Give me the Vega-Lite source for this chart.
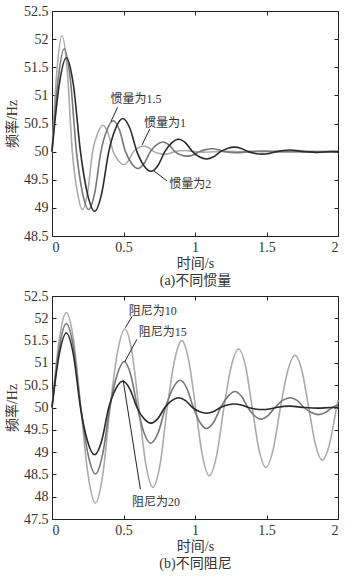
{
  "$schema": "https://vega.github.io/schema/vega-lite/v6.json",
  "padding": {"left": 5, "top": 3, "right": 5, "bottom": 5},
  "config": {
    "font": "Liberation Serif, Noto Sans CJK SC",
    "view": {"stroke": "#222", "strokeWidth": 1},
    "axis": {
      "grid": false,
      "domainColor": "#222",
      "tickColor": "#222",
      "tickSize": -4,
      "format": "~g",
      "labelFont": "Liberation Serif",
      "labelFontSize": 14,
      "labelColor": "#333",
      "labelPadding": 8,
      "titleFont": "Liberation Serif, Noto Sans CJK SC",
      "titleFontSize": 14,
      "titleFontWeight": "normal",
      "titleColor": "#333"
    }
  },
  "datasets": {
    "a": [
      {"t":0,"f":50,"s":"惯量为1"},{"t":0.035,"f":51.46,"s":"惯量为1"},{"t":0.07,"f":52.06,"s":"惯量为1"},{"t":0.106,"f":51.46,"s":"惯量为1"},{"t":0.142,"f":50,"s":"惯量为1"},{"t":0.178,"f":49.27,"s":"惯量为1"},{"t":0.213,"f":48.97,"s":"惯量为1"},{"t":0.249,"f":49.27,"s":"惯量为1"},{"t":0.284,"f":50,"s":"惯量为1"},{"t":0.32,"f":50.33,"s":"惯量为1"},{"t":0.355,"f":50.47,"s":"惯量为1"},{"t":0.392,"f":50.33,"s":"惯量为1"},{"t":0.428,"f":50,"s":"惯量为1"},{"t":0.464,"f":49.84,"s":"惯量为1"},{"t":0.5,"f":49.77,"s":"惯量为1"},{"t":0.535,"f":49.84,"s":"惯量为1"},{"t":0.57,"f":50,"s":"惯量为1"},{"t":0.605,"f":50.07,"s":"惯量为1"},{"t":0.64,"f":50.1,"s":"惯量为1"},{"t":0.676,"f":50.07,"s":"惯量为1"},{"t":0.712,"f":50,"s":"惯量为1"},{"t":0.75,"f":49.965,"s":"惯量为1"},{"t":0.785,"f":49.95,"s":"惯量为1"},{"t":0.82,"f":49.965,"s":"惯量为1"},{"t":0.857,"f":50,"s":"惯量为1"},{"t":0.93,"f":50.02,"s":"惯量为1"},{"t":1.0,"f":50,"s":"惯量为1"},{"t":1.07,"f":49.99,"s":"惯量为1"},{"t":1.2,"f":50.005,"s":"惯量为1"},{"t":1.4,"f":50,"s":"惯量为1"},{"t":2.0,"f":50,"s":"惯量为1"},
      {"t":0,"f":50,"s":"惯量为1.5"},{"t":0.043,"f":51.29,"s":"惯量为1.5"},{"t":0.086,"f":51.83,"s":"惯量为1.5"},{"t":0.128,"f":51.29,"s":"惯量为1.5"},{"t":0.171,"f":50,"s":"惯量为1.5"},{"t":0.213,"f":49.27,"s":"惯量为1.5"},{"t":0.256,"f":48.97,"s":"惯量为1.5"},{"t":0.299,"f":49.27,"s":"惯量为1.5"},{"t":0.342,"f":50,"s":"惯量为1.5"},{"t":0.385,"f":50.39,"s":"惯量为1.5"},{"t":0.428,"f":50.55,"s":"惯量为1.5"},{"t":0.471,"f":50.39,"s":"惯量为1.5"},{"t":0.514,"f":50,"s":"惯量为1.5"},{"t":0.557,"f":49.79,"s":"惯量为1.5"},{"t":0.6,"f":49.7,"s":"惯量为1.5"},{"t":0.644,"f":49.79,"s":"惯量为1.5"},{"t":0.688,"f":50,"s":"惯量为1.5"},{"t":0.731,"f":50.12,"s":"惯量为1.5"},{"t":0.775,"f":50.17,"s":"惯量为1.5"},{"t":0.818,"f":50.12,"s":"惯量为1.5"},{"t":0.86,"f":50,"s":"惯量为1.5"},{"t":0.903,"f":49.94,"s":"惯量为1.5"},{"t":0.945,"f":49.92,"s":"惯量为1.5"},{"t":0.988,"f":49.94,"s":"惯量为1.5"},{"t":1.03,"f":50,"s":"惯量为1.5"},{"t":1.075,"f":50.035,"s":"惯量为1.5"},{"t":1.12,"f":50.05,"s":"惯量为1.5"},{"t":1.163,"f":50.035,"s":"惯量为1.5"},{"t":1.205,"f":50,"s":"惯量为1.5"},{"t":1.29,"f":49.98,"s":"惯量为1.5"},{"t":1.375,"f":50,"s":"惯量为1.5"},{"t":1.46,"f":50.01,"s":"惯量为1.5"},{"t":1.6,"f":50,"s":"惯量为1.5"},{"t":2.0,"f":50,"s":"惯量为1.5"},
      {"t":0,"f":50,"s":"惯量为2"},{"t":0.05,"f":51.18,"s":"惯量为2"},{"t":0.1,"f":51.67,"s":"惯量为2"},{"t":0.15,"f":51.18,"s":"惯量为2"},{"t":0.199,"f":50,"s":"惯量为2"},{"t":0.248,"f":49.25,"s":"惯量为2"},{"t":0.298,"f":48.94,"s":"惯量为2"},{"t":0.347,"f":49.25,"s":"惯量为2"},{"t":0.397,"f":50,"s":"惯量为2"},{"t":0.446,"f":50.42,"s":"惯量为2"},{"t":0.495,"f":50.59,"s":"惯量为2"},{"t":0.544,"f":50.42,"s":"惯量为2"},{"t":0.594,"f":50,"s":"惯量为2"},{"t":0.643,"f":49.75,"s":"惯量为2"},{"t":0.692,"f":49.65,"s":"惯量为2"},{"t":0.74,"f":49.75,"s":"惯量为2"},{"t":0.789,"f":50,"s":"惯量为2"},{"t":0.837,"f":50.156,"s":"惯量为2"},{"t":0.885,"f":50.22,"s":"惯量为2"},{"t":0.934,"f":50.156,"s":"惯量为2"},{"t":0.983,"f":50,"s":"惯量为2"},{"t":1.03,"f":49.908,"s":"惯量为2"},{"t":1.08,"f":49.87,"s":"惯量为2"},{"t":1.13,"f":49.908,"s":"惯量为2"},{"t":1.178,"f":50,"s":"惯量为2"},{"t":1.226,"f":50.057,"s":"惯量为2"},{"t":1.275,"f":50.08,"s":"惯量为2"},{"t":1.324,"f":50.057,"s":"惯量为2"},{"t":1.373,"f":50,"s":"惯量为2"},{"t":1.42,"f":49.968,"s":"惯量为2"},{"t":1.47,"f":49.955,"s":"惯量为2"},{"t":1.52,"f":49.968,"s":"惯量为2"},{"t":1.568,"f":50,"s":"惯量为2"},{"t":1.665,"f":50.03,"s":"惯量为2"},{"t":1.763,"f":50,"s":"惯量为2"},{"t":1.86,"f":49.985,"s":"惯量为2"},{"t":1.95,"f":50,"s":"惯量为2"},{"t":2.0,"f":50,"s":"惯量为2"}
    ],
    "b": [
      {"t":0,"f":50,"s":"阻尼为10"},{"t":0.05,"f":51.51,"s":"阻尼为10"},{"t":0.1,"f":52.13,"s":"阻尼为10"},{"t":0.151,"f":51.51,"s":"阻尼为10"},{"t":0.201,"f":50,"s":"阻尼为10"},{"t":0.252,"f":48.49,"s":"阻尼为10"},{"t":0.303,"f":47.86,"s":"阻尼为10"},{"t":0.355,"f":48.49,"s":"阻尼为10"},{"t":0.406,"f":50,"s":"阻尼为10"},{"t":0.458,"f":51.24,"s":"阻尼为10"},{"t":0.51,"f":51.76,"s":"阻尼为10"},{"t":0.559,"f":51.24,"s":"阻尼为10"},{"t":0.607,"f":50,"s":"阻尼为10"},{"t":0.656,"f":48.73,"s":"阻尼为10"},{"t":0.705,"f":48.21,"s":"阻尼为10"},{"t":0.756,"f":48.73,"s":"阻尼为10"},{"t":0.806,"f":50,"s":"阻尼为10"},{"t":0.857,"f":51.06,"s":"阻尼为10"},{"t":0.908,"f":51.5,"s":"阻尼为10"},{"t":0.956,"f":51.06,"s":"阻尼为10"},{"t":1.004,"f":50,"s":"阻尼为10"},{"t":1.052,"f":48.92,"s":"阻尼为10"},{"t":1.1,"f":48.47,"s":"阻尼为10"},{"t":1.151,"f":48.92,"s":"阻尼为10"},{"t":1.2025,"f":50,"s":"阻尼为10"},{"t":1.254,"f":50.93,"s":"阻尼为10"},{"t":1.305,"f":51.31,"s":"阻尼为10"},{"t":1.353,"f":50.93,"s":"阻尼为10"},{"t":1.4,"f":50,"s":"阻尼为10"},{"t":1.448,"f":49.05,"s":"阻尼为10"},{"t":1.495,"f":48.66,"s":"阻尼为10"},{"t":1.546,"f":49.05,"s":"阻尼为10"},{"t":1.5975,"f":50,"s":"阻尼为10"},{"t":1.649,"f":50.83,"s":"阻尼为10"},{"t":1.7,"f":51.17,"s":"阻尼为10"},{"t":1.7475,"f":50.83,"s":"阻尼为10"},{"t":1.795,"f":50,"s":"阻尼为10"},{"t":1.8425,"f":49.17,"s":"阻尼为10"},{"t":1.89,"f":48.82,"s":"阻尼为10"},{"t":1.94,"f":49.17,"s":"阻尼为10"},{"t":1.99,"f":50,"s":"阻尼为10"},{"t":2.0,"f":50.17,"s":"阻尼为10"},
      {"t":0,"f":50,"s":"阻尼为15"},{"t":0.05,"f":51.33,"s":"阻尼为15"},{"t":0.1,"f":51.88,"s":"阻尼为15"},{"t":0.151,"f":51.33,"s":"阻尼为15"},{"t":0.2015,"f":50,"s":"阻尼为15"},{"t":0.252,"f":48.95,"s":"阻尼为15"},{"t":0.303,"f":48.51,"s":"阻尼为15"},{"t":0.354,"f":48.95,"s":"阻尼为15"},{"t":0.404,"f":50,"s":"阻尼为15"},{"t":0.455,"f":50.73,"s":"阻尼为15"},{"t":0.505,"f":51.03,"s":"阻尼为15"},{"t":0.551,"f":50.73,"s":"阻尼为15"},{"t":0.5975,"f":50,"s":"阻尼为15"},{"t":0.644,"f":49.43,"s":"阻尼为15"},{"t":0.69,"f":49.2,"s":"阻尼为15"},{"t":0.742,"f":49.43,"s":"阻尼为15"},{"t":0.7935,"f":50,"s":"阻尼为15"},{"t":0.845,"f":50.43,"s":"阻尼为15"},{"t":0.897,"f":50.61,"s":"阻尼为15"},{"t":0.943,"f":50.43,"s":"阻尼为15"},{"t":0.9885,"f":50,"s":"阻尼为15"},{"t":1.034,"f":49.67,"s":"阻尼为15"},{"t":1.08,"f":49.53,"s":"阻尼为15"},{"t":1.13,"f":49.67,"s":"阻尼为15"},{"t":1.18,"f":50,"s":"阻尼为15"},{"t":1.23,"f":50.25,"s":"阻尼为15"},{"t":1.28,"f":50.36,"s":"阻尼为15"},{"t":1.325,"f":50.25,"s":"阻尼为15"},{"t":1.37,"f":50,"s":"阻尼为15"},{"t":1.415,"f":49.82,"s":"阻尼为15"},{"t":1.46,"f":49.74,"s":"阻尼为15"},{"t":1.51,"f":49.82,"s":"阻尼为15"},{"t":1.56,"f":50,"s":"阻尼为15"},{"t":1.6125,"f":50.16,"s":"阻尼为15"},{"t":1.665,"f":50.22,"s":"阻尼为15"},{"t":1.714,"f":50.16,"s":"阻尼为15"},{"t":1.7625,"f":50,"s":"阻尼为15"},{"t":1.814,"f":49.89,"s":"阻尼为15"},{"t":1.865,"f":49.84,"s":"阻尼为15"},{"t":1.9125,"f":49.89,"s":"阻尼为15"},{"t":1.96,"f":50,"s":"阻尼为15"},{"t":2.0,"f":50.06,"s":"阻尼为15"},
      {"t":0,"f":50,"s":"阻尼为20"},{"t":0.05,"f":51.18,"s":"阻尼为20"},{"t":0.1,"f":51.67,"s":"阻尼为20"},{"t":0.15,"f":51.18,"s":"阻尼为20"},{"t":0.199,"f":50,"s":"阻尼为20"},{"t":0.248,"f":49.25,"s":"阻尼为20"},{"t":0.298,"f":48.94,"s":"阻尼为20"},{"t":0.347,"f":49.25,"s":"阻尼为20"},{"t":0.397,"f":50,"s":"阻尼为20"},{"t":0.446,"f":50.42,"s":"阻尼为20"},{"t":0.495,"f":50.59,"s":"阻尼为20"},{"t":0.544,"f":50.42,"s":"阻尼为20"},{"t":0.594,"f":50,"s":"阻尼为20"},{"t":0.643,"f":49.75,"s":"阻尼为20"},{"t":0.692,"f":49.65,"s":"阻尼为20"},{"t":0.74,"f":49.75,"s":"阻尼为20"},{"t":0.789,"f":50,"s":"阻尼为20"},{"t":0.837,"f":50.156,"s":"阻尼为20"},{"t":0.885,"f":50.22,"s":"阻尼为20"},{"t":0.934,"f":50.156,"s":"阻尼为20"},{"t":0.983,"f":50,"s":"阻尼为20"},{"t":1.03,"f":49.908,"s":"阻尼为20"},{"t":1.08,"f":49.87,"s":"阻尼为20"},{"t":1.13,"f":49.908,"s":"阻尼为20"},{"t":1.178,"f":50,"s":"阻尼为20"},{"t":1.226,"f":50.057,"s":"阻尼为20"},{"t":1.275,"f":50.08,"s":"阻尼为20"},{"t":1.324,"f":50.057,"s":"阻尼为20"},{"t":1.373,"f":50,"s":"阻尼为20"},{"t":1.42,"f":49.968,"s":"阻尼为20"},{"t":1.47,"f":49.955,"s":"阻尼为20"},{"t":1.52,"f":49.968,"s":"阻尼为20"},{"t":1.568,"f":50,"s":"阻尼为20"},{"t":1.665,"f":50.03,"s":"阻尼为20"},{"t":1.763,"f":50,"s":"阻尼为20"},{"t":1.86,"f":49.985,"s":"阻尼为20"},{"t":1.95,"f":50,"s":"阻尼为20"},{"t":2.0,"f":50,"s":"阻尼为20"}
    ],
    "la": [
      {"t":0.587,"f":50.94,"label":"惯量为1.5"},
      {"t":0.79,"f":50.51,"label":"惯量为1"},
      {"t":0.967,"f":49.42,"label":"惯量为2"}
    ],
    "ra": [
      {"t":0.459,"f":50.79,"t2":0.413,"f2":50.54},
      {"t":0.683,"f":50.40,"t2":0.63,"f2":50.12},
      {"t":0.804,"f":49.48,"t2":0.711,"f2":49.66}
    ],
    "lb": [
      {"t":0.705,"f":52.16,"label":"阻尼为10"},
      {"t":0.775,"f":51.69,"label":"阻尼为15"},
      {"t":0.727,"f":47.89,"label":"阻尼为20"}
    ],
    "rb": [
      {"t":0.56,"f":52.04,"t2":0.513,"f2":51.79},
      {"t":0.594,"f":51.53,"t2":0.508,"f2":51.02},
      {"t":0.618,"f":48.17,"t2":0.497,"f2":50.62}
    ]
  },
  "spacing": 60,
  "bounds": "flush",
  "vconcat": [
    {
      "width": 286,
      "height": 225,
      "layer": [
        {
          "data": {"name": "a"},
          "mark": {"type": "line", "interpolate": "monotone", "strokeWidth": 1.6},
          "encoding": {
            "x": {"field": "t", "type": "quantitative", "scale": {"domain": [0, 2], "nice": false},
                  "axis": {"values": [0, 0.5, 1, 1.5, 2], "format": "~g", "title": ["时间/s", "(a)不同惯量"], "titlePadding": 2, "titleLineHeight": 17}},
            "y": {"field": "f", "type": "quantitative", "scale": {"domain": [48.5, 52.5], "nice": false, "zero": false},
                  "axis": {"values": [48.5, 49, 49.5, 50, 50.5, 51, 51.5, 52, 52.5], "format": "~g", "title": "频率/Hz", "titlePadding": 4}},
            "color": {"field": "s", "type": "nominal", "legend": null,
                      "scale": {"domain": ["惯量为1", "惯量为1.5", "惯量为2"], "range": ["#ababab", "#777777", "#2a2a2a"]}}
          }
        },
        {
          "data": {"name": "ra"},
          "mark": {"type": "rule", "color": "#222", "strokeWidth": 1},
          "encoding": {
            "x": {"field": "t", "type": "quantitative", "axis": {"orient": "top", "values": [0, 0.5, 1, 1.5, 2], "labels": false, "title": null, "domain": false}},
            "y": {"field": "f", "type": "quantitative", "axis": {"orient": "right", "values": [48.5, 49, 49.5, 50, 50.5, 51, 51.5, 52, 52.5], "labels": false, "title": null, "domain": false}},
            "x2": {"field": "t2"},
            "y2": {"field": "f2"}
          }
        },
        {
          "data": {"name": "la"},
          "mark": {"type": "text", "font": "Liberation Serif, Noto Sans CJK SC", "fontSize": 12, "color": "#333"},
          "encoding": {
            "x": {"field": "t", "type": "quantitative", "axis": null},
            "y": {"field": "f", "type": "quantitative", "axis": null},
            "text": {"field": "label"}
          }
        }
      ],
      "resolve": {"axis": {"x": "independent", "y": "independent"}}
    },
    {
      "width": 286,
      "height": 223,
      "layer": [
        {
          "data": {"name": "b"},
          "mark": {"type": "line", "interpolate": "monotone", "strokeWidth": 1.6},
          "encoding": {
            "x": {"field": "t", "type": "quantitative", "scale": {"domain": [0, 2], "nice": false},
                  "axis": {"values": [0, 0.5, 1, 1.5, 2], "format": "~g", "title": ["时间/s", "(b)不同阻尼"], "titlePadding": 2, "titleLineHeight": 17}},
            "y": {"field": "f", "type": "quantitative", "scale": {"domain": [47.5, 52.5], "nice": false, "zero": false},
                  "axis": {"values": [47.5, 48, 48.5, 49, 49.5, 50, 50.5, 51, 51.5, 52, 52.5], "format": "~g", "title": "频率/Hz", "titlePadding": 4}},
            "color": {"field": "s", "type": "nominal", "legend": null,
                      "scale": {"domain": ["阻尼为10", "阻尼为15", "阻尼为20"], "range": ["#ababab", "#777777", "#2a2a2a"]}}
          }
        },
        {
          "data": {"name": "rb"},
          "mark": {"type": "rule", "color": "#222", "strokeWidth": 1},
          "encoding": {
            "x": {"field": "t", "type": "quantitative", "axis": {"orient": "top", "values": [0, 0.5, 1, 1.5, 2], "labels": false, "title": null, "domain": false}},
            "y": {"field": "f", "type": "quantitative", "axis": {"orient": "right", "values": [47.5, 48, 48.5, 49, 49.5, 50, 50.5, 51, 51.5, 52, 52.5], "labels": false, "title": null, "domain": false}},
            "x2": {"field": "t2"},
            "y2": {"field": "f2"}
          }
        },
        {
          "data": {"name": "lb"},
          "mark": {"type": "text", "font": "Liberation Serif, Noto Sans CJK SC", "fontSize": 12, "color": "#333"},
          "encoding": {
            "x": {"field": "t", "type": "quantitative", "axis": null},
            "y": {"field": "f", "type": "quantitative", "axis": null},
            "text": {"field": "label"}
          }
        }
      ],
      "resolve": {"axis": {"x": "independent", "y": "independent"}}
    }
  ]
}
